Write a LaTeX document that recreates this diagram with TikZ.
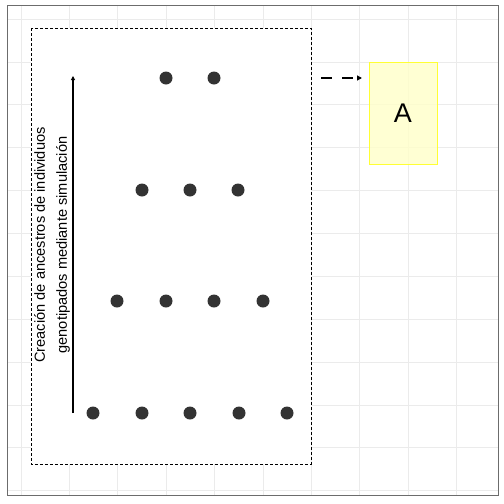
\documentclass[tikz,border=0pt]{standalone}
\usepackage{fontspec}
\setmainfont{Liberation Sans}
\usetikzlibrary{arrows.meta}
\definecolor{gridc}{gray}{0.92}
\definecolor{dotc}{HTML}{333333}
\definecolor{boxfill}{HTML}{FFFFC8}
\definecolor{boxedge}{HTML}{FFFF33}
\tikzset{
  gridline/.style={draw=gridc, line width=0.9pt},
  dotnode/.style={circle, fill=dotc, inner sep=0pt, minimum size=13pt},
  frame/.style={draw=black, dashed, line width=0.5pt, dash pattern=on 3pt off 2pt, fill=white},
}
\begin{document}
\begin{tikzpicture}[x=1pt,y=-1pt]
\useasboundingbox (0,0) rectangle (504,504);
\fill[white] (0,0) rectangle (504,504);
% grid
\foreach \gx in {21,69.4,117.8,166.2,214.6,263,311.4,359.8,408.2,456.6}
  \draw[gridline] (\gx,6) -- (\gx,495);
\foreach \gy in {19,62,104,147,190,233,276,319,362,405,447,490}
  \draw[gridline] (8,\gy) -- (498,\gy);
% dashed frame
\draw[frame] (31,28) rectangle (311,464);
% dots
\node[dotnode] (r1a) at (166,78) {};
\node[dotnode] (r1b) at (214,78) {};
\node[dotnode] (r2a) at (142,190) {};
\node[dotnode] (r2b) at (190,190) {};
\node[dotnode] (r2c) at (238,190) {};
\node[dotnode] (r3a) at (117,301) {};
\node[dotnode] (r3b) at (166,301) {};
\node[dotnode] (r3c) at (214,301) {};
\node[dotnode] (r3d) at (263,301) {};
\node[dotnode] (r4a) at (93,413) {};
\node[dotnode] (r4b) at (142,413) {};
\node[dotnode] (r4c) at (190,413) {};
\node[dotnode] (r4d) at (239,413) {};
\node[dotnode] (r4e) at (287,413) {};
% vertical arrow
\coordinate (vbot) at (73,413);
\coordinate (vtop) at (73,76);
\draw[line width=1.6pt, -{Triangle[length=4pt,width=4pt]}] (vbot) -- (vtop);
% label
\node[rotate=90, align=center, font=\fontsize{14.6}{22}\selectfont, inner sep=0pt] (lbl) at (52,245)
  {Creación de ancestros de individuos\\genotipados mediante simulación};
% yellow box
\node[draw=boxedge, fill=boxfill, fill opacity=0.8, text opacity=1, line width=1pt,
      minimum width=68pt, minimum height=102pt, inner sep=0pt,
      font=\fontsize{27}{30}\selectfont] (A) at (403,113) {A};
% dashed arrow
\coordinate (dstart) at (321,78);
\coordinate (dend) at (362,78);
\draw[line width=2pt, dash pattern=on 11pt off 10pt, -{Triangle[length=5pt,width=5pt]}] (dstart) -- (dend);
% panel border
\draw[draw=gray!85!black, line width=1pt] (7.5,5.5) rectangle (498,495);
\end{tikzpicture}
\end{document}
